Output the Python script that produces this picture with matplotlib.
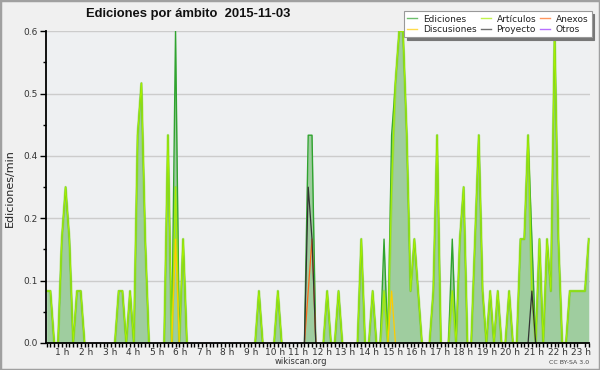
import matplotlib
matplotlib.use('Agg')
import matplotlib.pyplot as plt
import numpy as np
from matplotlib.patches import Rectangle
from matplotlib.ticker import FixedLocator

# Edits per minute, 10-minute bins (144 bins over the day)
ediciones = [
    0.1, 0.1, 0, 0, 0.2, 0.3, 0.2, 0, 0.1, 0.1, 0, 0,
    0, 0, 0, 0, 0, 0, 0, 0.1, 0.1, 0, 0.1, 0,
    0.4, 0.5, 0.2, 0, 0, 0, 0, 0, 0.4, 0, 0.6, 0,
    0.2, 0, 0, 0, 0, 0, 0, 0, 0, 0, 0, 0,
    0, 0, 0, 0, 0, 0, 0, 0, 0.1, 0, 0, 0,
    0, 0.1, 0, 0, 0, 0, 0, 0, 0, 0.4, 0.4, 0,
    0, 0, 0.1, 0, 0, 0.1, 0, 0, 0, 0, 0, 0.2,
    0, 0, 0.1, 0, 0, 0.2, 0, 0.4, 0.5, 0.6, 0.6, 0.4,
    0.1, 0.2, 0.1, 0, 0, 0, 0.1, 0.4, 0, 0, 0, 0.2,
    0, 0.2, 0.3, 0, 0, 0.2, 0.4, 0.1, 0, 0.1, 0, 0.1,
    0, 0, 0.1, 0, 0, 0.2, 0.2, 0.4, 0.2, 0, 0.2, 0,
    0.2, 0.1, 0.6, 0.2, 0, 0, 0.1, 0.1, 0.1, 0.1, 0.1, 0.2,
]
articulos = [
    0.1, 0.1, 0, 0, 0.2, 0.3, 0.2, 0, 0.1, 0.1, 0, 0,
    0, 0, 0, 0, 0, 0, 0, 0.1, 0.1, 0, 0.1, 0,
    0.4, 0.5, 0.2, 0, 0, 0, 0, 0, 0.4, 0, 0.3, 0,
    0.2, 0, 0, 0, 0, 0, 0, 0, 0, 0, 0, 0,
    0, 0, 0, 0, 0, 0, 0, 0, 0.1, 0, 0, 0,
    0, 0.1, 0, 0, 0, 0, 0, 0, 0, 0, 0, 0,
    0, 0, 0.1, 0, 0, 0.1, 0, 0, 0, 0, 0, 0.2,
    0, 0, 0.1, 0, 0, 0.1, 0, 0.3, 0.5, 0.6, 0.6, 0.4,
    0.1, 0.2, 0.1, 0, 0, 0, 0.1, 0.4, 0, 0, 0, 0.1,
    0, 0.2, 0.3, 0, 0, 0.2, 0.4, 0.1, 0, 0.1, 0, 0.1,
    0, 0, 0.1, 0, 0, 0.2, 0.2, 0.4, 0.1, 0, 0.2, 0,
    0.2, 0.1, 0.6, 0.2, 0, 0, 0.1, 0.1, 0.1, 0.1, 0.1, 0.2,
]
anexos = [
    0, 0, 0, 0, 0, 0, 0, 0, 0, 0, 0, 0,
    0, 0, 0, 0, 0, 0, 0, 0, 0, 0, 0, 0,
    0, 0, 0, 0, 0, 0, 0, 0, 0, 0, 0, 0,
    0, 0, 0, 0, 0, 0, 0, 0, 0, 0, 0, 0,
    0, 0, 0, 0, 0, 0, 0, 0, 0, 0, 0, 0,
    0, 0, 0, 0, 0, 0, 0, 0, 0, 0.1, 0.2, 0,
    0, 0, 0, 0, 0, 0, 0, 0, 0, 0, 0, 0,
    0, 0, 0, 0, 0, 0, 0, 0, 0, 0, 0, 0,
    0, 0, 0, 0, 0, 0, 0, 0, 0, 0, 0, 0,
    0, 0, 0, 0, 0, 0, 0, 0, 0, 0, 0, 0,
    0, 0, 0, 0, 0, 0, 0, 0, 0, 0, 0, 0,
    0, 0, 0, 0, 0, 0, 0, 0, 0, 0, 0, 0,
]
discusiones = [
    0, 0, 0, 0, 0, 0, 0, 0, 0, 0, 0, 0,
    0, 0, 0, 0, 0, 0, 0, 0, 0, 0, 0, 0,
    0, 0, 0, 0, 0, 0, 0, 0, 0, 0, 0.2, 0,
    0, 0, 0, 0, 0, 0, 0, 0, 0, 0, 0, 0,
    0, 0, 0, 0, 0, 0, 0, 0, 0, 0, 0, 0,
    0, 0, 0, 0, 0, 0, 0, 0, 0, 0, 0, 0,
    0, 0, 0, 0, 0, 0, 0, 0, 0, 0, 0, 0,
    0, 0, 0, 0, 0, 0, 0, 0.1, 0, 0, 0, 0,
    0, 0, 0, 0, 0, 0, 0, 0, 0, 0, 0, 0,
    0, 0, 0, 0, 0, 0, 0, 0, 0, 0, 0, 0,
    0, 0, 0, 0, 0, 0, 0, 0, 0, 0, 0, 0,
    0, 0, 0, 0, 0, 0, 0, 0, 0, 0, 0, 0,
]
proyecto = [
    0, 0, 0, 0, 0, 0, 0, 0, 0, 0, 0, 0,
    0, 0, 0, 0, 0, 0, 0, 0, 0, 0, 0, 0,
    0, 0, 0, 0, 0, 0, 0, 0, 0, 0, 0, 0,
    0, 0, 0, 0, 0, 0, 0, 0, 0, 0, 0, 0,
    0, 0, 0, 0, 0, 0, 0, 0, 0, 0, 0, 0,
    0, 0, 0, 0, 0, 0, 0, 0, 0, 0.3, 0.2, 0,
    0, 0, 0, 0, 0, 0, 0, 0, 0, 0, 0, 0,
    0, 0, 0, 0, 0, 0, 0, 0, 0, 0, 0, 0,
    0, 0, 0, 0, 0, 0, 0, 0, 0, 0, 0, 0,
    0, 0, 0, 0, 0, 0, 0, 0, 0, 0, 0, 0,
    0, 0, 0, 0, 0, 0, 0, 0, 0.1, 0, 0, 0,
    0, 0, 0, 0, 0, 0, 0, 0, 0, 0, 0, 0,
]
otros = [0] * 144

hour_labels = [f"{k} h" for k in range(1, 24)]
y_ticks = [0.0, 0.12, 0.24, 0.36, 0.48, 0.6]
title = "Ediciones por ámbito  2015-11-03"

n = len(ediciones)
x = np.arange(n)


def masked(vals):
    v = np.array(vals, float)
    out = v.copy()
    for i in range(len(v)):
        left = v[i - 1] if i > 0 else 0
        right = v[i + 1] if i < len(v) - 1 else 0
        if v[i] == 0 and left == 0 and right == 0:
            out[i] = np.nan
    return out


fig = plt.figure(figsize=(6, 3.7), dpi=100, facecolor='#f0f0f0')
ax = fig.add_axes([45.7 / 600, 1 - 343 / 370, (589.5 - 45.7) / 600, (343 - 31.3) / 370])
ax.set_facecolor('#eef0f2')

ax.fill_between(x, 0, ediciones, color='#9fcd9f', lw=0, zorder=2)
l_ed, = ax.plot(x, masked(ediciones), color='#2fa32f', lw=1.0, zorder=4, label='Ediciones')
# soft glow under the Artículos line
ax.plot(x, masked(articulos), color='#7fd81a', lw=2.0, alpha=0.45, zorder=4.5)
l_art, = ax.plot(x, masked(articulos), color='#a6ee00', lw=0.8, zorder=5, label='Artículos')
l_anx, = ax.plot(x, masked(anexos), color='#ff6a1a', lw=0.9, zorder=6, label='Anexos')
l_dis, = ax.plot(x, masked(discusiones), color='#ffcc00', lw=0.9, zorder=6, label='Discusiones')
l_pro, = ax.plot(x, masked(proyecto), color='#333333', lw=0.9, zorder=7, label='Proyecto')
l_otr, = ax.plot(x, masked(otros), color='#9933ff', lw=0.9, zorder=6, label='Otros')

ax.set_xlim(-0.25, n - 0.8)
ax.set_ylim(0, 0.6)

for s in ['top', 'right']:
    ax.spines[s].set_visible(False)
for s in ['left', 'bottom']:
    ax.spines[s].set_linewidth(1.3)
    ax.spines[s].set_color('black')
    ax.spines[s].set_zorder(10)

# y axis
ax.yaxis.set_major_locator(FixedLocator(y_ticks))
ax.set_yticklabels([f"{v:.1f}" for v in y_ticks])
ax.yaxis.set_minor_locator(FixedLocator([0.06, 0.18, 0.30, 0.42, 0.54]))
ax.tick_params(axis='y', which='major', length=4, width=1, color='black',
               labelsize=6.5, labelcolor='#333333', pad=1.5)
ax.tick_params(axis='y', which='minor', length=2.5, width=1, color='black')
for v in y_ticks[1:]:
    ax.axhline(v, color='#cccccc', lw=1, zorder=1)

# x axis
label_pos = [k * (n - 1) / 23 - 2.0 for k in range(1, 24)]
ax.set_xticks(label_pos)
ax.set_xticklabels(hour_labels)
ax.xaxis.set_minor_locator(FixedLocator(list(x)))
ax.tick_params(axis='x', which='major', length=0, labelsize=6.5, labelcolor='#333333', pad=3.5)
ax.tick_params(axis='x', which='minor', length=3, width=1, color='black')

# texts
fig.text(188 / 600, 1 - 14 / 370, title, ha='center', va='center',
         fontsize=9.4, fontweight='bold', family='Liberation Sans', color='#111111')
fig.text(10 / 600, 1 - 188 / 370, 'Ediciones/min', rotation=90, ha='center', va='center',
         fontsize=8, color='#222222')
fig.text(301 / 600, 1 - 361 / 370, 'wikiscan.org', ha='center', va='center',
         fontsize=6, color='#333333')
fig.text(569 / 600, 1 - 362 / 370, 'CC BY-SA 3.0', ha='center', va='center',
         fontsize=4.5, color='#444444')

# legend
handles = [l_ed, l_dis, l_art, l_pro, l_anx, l_otr]
leg = fig.legend(handles=handles, labels=[h.get_label() for h in handles],
                 loc='upper left', bbox_to_anchor=(404 / 600, 1 - 11.5 / 370),
                 bbox_transform=fig.transFigure, ncol=3, fontsize=6.5,
                 frameon=True, fancybox=False, framealpha=1, edgecolor='#999999',
                 shadow={'color': '#777777', 'alpha': 1},
                 handlelength=1.1, handletextpad=0.65, columnspacing=0.45,
                 labelspacing=0.15, borderpad=0.35, borderaxespad=0)
leg.get_frame().set_linewidth(0.8)
for line in leg.get_lines():
    line.set_linewidth(1.0)
    line.set_alpha(0.7)
for t in leg.get_texts():
    t.set_color('#222222')

fig.patches.append(Rectangle((0, 0), 1, 1, transform=fig.transFigure, fill=False,
                             edgecolor='#a0a0a0', lw=2.5, zorder=100))

fig.savefig('out.png', dpi=100, facecolor=fig.get_facecolor())
